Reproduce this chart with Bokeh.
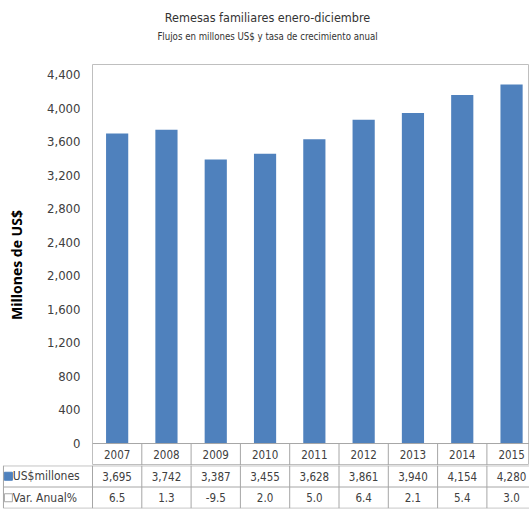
from bokeh.plotting import figure
from bokeh.models import Range1d, FixedTicker, NumeralTickFormatter, Span, Div
from bokeh.layouts import column
from bokeh.embed import file_html
from bokeh.resources import INLINE
from bokeh.core.properties import value

title = "Remesas familiares enero-diciembre"
subtitle = "Flujos en millones US$ y tasa de crecimiento anual"
years = ["2007", "2008", "2009", "2010", "2011", "2012", "2013", "2014", "2015"]
us_millones = [3695, 3742, 3387, 3455, 3628, 3861, 3940, 4154, 4280]
var_anual = [6.5, 1.3, -9.5, 2.0, 5.0, 6.4, 2.1, 5.4, 3.0]
y_ticks = [0, 400, 800, 1200, 1600, 2000, 2400, 2800, 3200, 3600, 4000, 4400]
row_labels = ["US$millones", "Var. Anual%"]

FONT = "DejaVu Sans Condensed"
BLUE = "#4F81BD"
GRID = "#a6a6a6"
TXT = "#404040"

W = 529
LEFT = 92
COL = 49.3
n = len(years)
x_end = (W - LEFT) / COL
xc = [i + 0.5 for i in range(n)]

# ---------------- titles ----------------
HEAD = 48
head = Div(width=W, height=HEAD, margin=0, text=(
    f'<div style="position:relative;width:{W}px;height:{HEAD}px;margin:0;padding:0;'
    f'font-family:\'{FONT}\';color:#333333;">'
    f'<div style="position:absolute;left:0;top:10px;width:535px;text-align:center;'
    f'font-size:12.5px;line-height:16px;white-space:nowrap;">{title}</div>'
    f'<div style="position:absolute;left:0;top:31px;width:535px;text-align:center;'
    f'font-size:9.6px;line-height:12px;white-space:nowrap;">{subtitle}</div></div>'))

# ---------------- top chart (with the year row of the table) ----------------
p = figure(width=W, height=465 - HEAD, x_range=Range1d(0, x_end), y_range=Range1d(-262, 4519),
           output_backend="svg", toolbar_location=None, x_axis_location=None,
           min_border_left=LEFT, min_border_right=0, min_border_bottom=0,
           min_border_top=64 - HEAD)
p.frame_align = False
p.vbar(x=xc, top=us_millones, width=0.45, color=BLUE, line_color=None)

p.yaxis.ticker = FixedTicker(ticks=y_ticks)
p.yaxis.formatter = NumeralTickFormatter(format="0,0")
p.yaxis.major_label_text_font = FONT
p.yaxis.major_label_text_font_size = "13px"
p.yaxis.major_label_text_color = TXT
p.yaxis.major_tick_line_color = None
p.yaxis.minor_tick_line_color = None
p.yaxis.major_tick_out = 0
p.yaxis.major_tick_in = 0
p.yaxis.minor_tick_out = 0
p.yaxis.axis_line_color = None
p.yaxis.major_label_standoff = 12
p.yaxis.axis_label = "Millones de US$"
p.yaxis.axis_label_text_font = "Open Sans"
p.yaxis.axis_label_text_font_style = "bold"
p.yaxis.axis_label_text_font_size = "14px"
p.yaxis.axis_label_text_color = "#000000"
p.yaxis.axis_label_standoff = 18
p.xgrid.grid_line_color = None
p.ygrid.grid_line_color = None
p.outline_line_color = "#bfbfbf"
p.outline_line_width = 1

# year row: separators, zero line and labels
p.add_layout(Span(location=0, dimension="width", line_color=GRID, line_width=1))
p.segment(x0=list(range(1, n)), y0=[-262] * (n - 1), x1=list(range(1, n)), y1=[0] * (n - 1),
          line_color=GRID, line_width=1)
p.text(x=xc, y=[-131] * n, text=years, text_align="center", text_baseline="middle",
       text_font=value(FONT), text_font_size="11.5px", text_color=TXT)

# ---------------- data table rows ----------------
lab_w = LEFT / COL
t = figure(width=W, height=47, x_range=Range1d(-lab_w, x_end), y_range=Range1d(0, 2),
           output_backend="svg", toolbar_location=None, x_axis_location=None,
           y_axis_location=None, min_border_left=0, min_border_right=0,
           min_border_top=0, min_border_bottom=4)
t.frame_align = False
t.outline_line_color = None
t.grid.grid_line_color = None

x_left = -lab_w + 0.06
t.segment(x0=[x_left] * 3, y0=[1.985, 1, 0.012], x1=[x_end] * 3, y1=[1.985, 1, 0.012],
          line_color=GRID, line_width=1)
t.segment(x0=list(range(n)) + [x_left], y0=[2] * n + [0.012],
          x1=list(range(n)) + [x_left], y1=[0.012] * n + [2],
          line_color=GRID, line_width=1)

t.text(x=xc, y=[1.5] * n, text=[f"{v:,}" for v in us_millones], text_align="center",
       text_baseline="middle", text_font=value(FONT), text_font_size="11.5px", text_color=TXT)
t.text(x=xc, y=[0.5] * n, text=[f"{v:.1f}" for v in var_anual], text_align="center",
       text_baseline="middle", text_font=value(FONT), text_font_size="11.5px", text_color=TXT)

# legend keys
t.scatter(x=[-lab_w + 0.16, -lab_w + 0.16], y=[1.5, 0.5], marker="square", size=8,
          fill_color=[BLUE, "white"], line_color=[BLUE, "#a6a6a6"])
t.text(x=[-lab_w + 0.25, -lab_w + 0.25], y=[1.5, 0.5], text=row_labels, text_align="left",
       text_baseline="middle", text_font=value(FONT), text_font_size="12px", text_color=TXT)

layout = column(head, p, t)
open("out.html", "w").write(file_html(layout, INLINE))
